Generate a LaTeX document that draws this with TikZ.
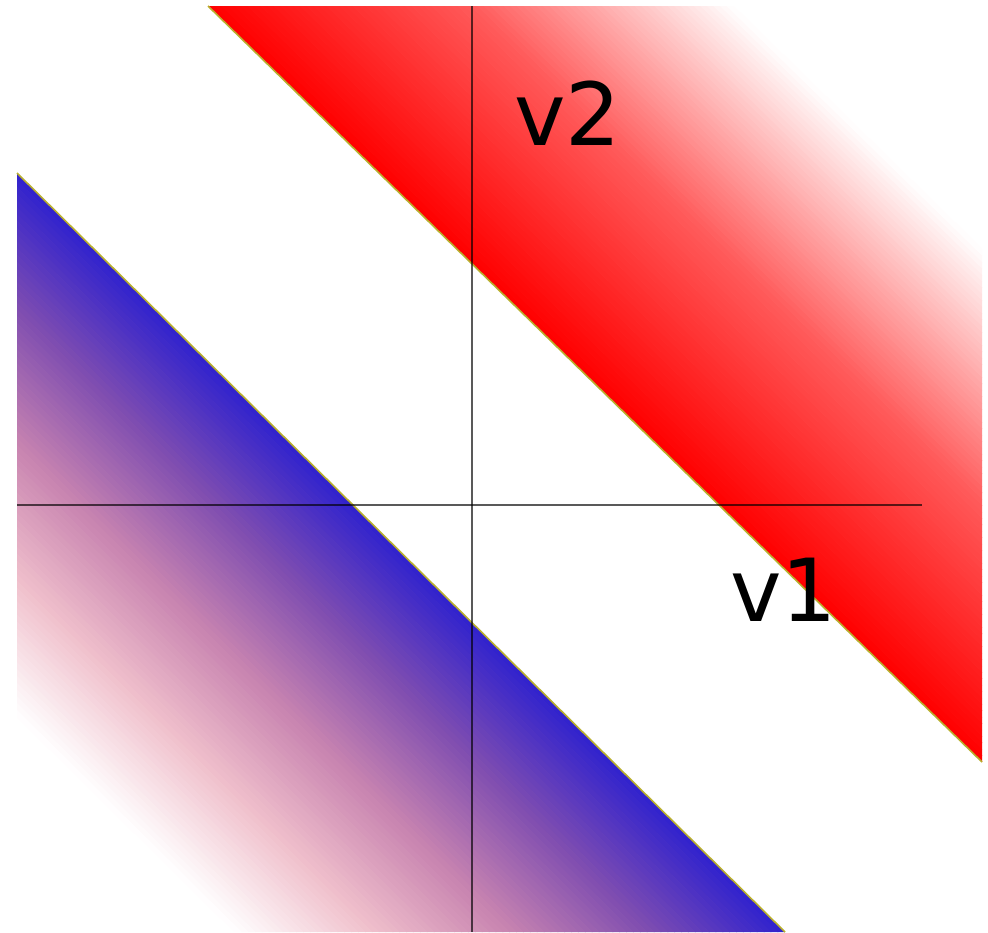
\documentclass[tikz,border=0pt]{standalone}
\usepackage{fontspec}
\setmainfont{DejaVu Sans}
\definecolor{rA}{RGB}{255,0,0}
\definecolor{rB}{RGB}{255,90,90}
\definecolor{rC}{RGB}{255,255,255}
\definecolor{bA}{RGB}{48,34,206}
\definecolor{bB}{RGB}{128,78,176}
\definecolor{bC}{RGB}{200,132,176}
\definecolor{bD}{RGB}{240,192,204}
\definecolor{bE}{RGB}{255,255,255}
\definecolor{edgecol}{RGB}{185,175,45}
\tikzset{
  axis/.style={black, opacity=0.65, line width=2pt},
  edgeline/.style={edgecol, line width=1.6pt},
  lab/.style={font=\fontsize{87}{92}\selectfont, inner sep=0pt, text=black}
}
\begin{document}
\begin{tikzpicture}[x=1pt,y=-1pt]
\useasboundingbox (0,0) rectangle (988,932);
\fill[white] (0,0) rectangle (988,932);
% red band
\begin{scope}
  \clip (208,6) -- (982,6) -- (982,762) -- cycle;
  \foreach \ca/\cb [count=\s from 0] in {rA/rB, rB/rC} {
    \foreach \i in {0,...,39} {
      \pgfmathsetmacro\da{(\s*40+\i)*6.5625}
      \pgfmathsetmacro\db{\da+7.4}
      \pgfmathsetmacro\p{(\i+0.5)*2.5}
      \fill[\cb!\p!\ca] (53.2+\da,-145.2) -- (1136.8+\da,913.2) -- (1136.8+\db,913.2) -- (53.2+\db,-145.2) -- cycle;
    }
  }
\end{scope}
% blue band
\begin{scope}
  \clip (17,173) -- (785,932) -- (17,932) -- cycle;
  \foreach \ca/\cb [count=\s from 0] in {bA/bB, bB/bC, bC/bD, bD/bE} {
    \foreach \i in {0,...,19} {
      \pgfmathsetmacro\da{(\s*20+\i)*6.875}
      \pgfmathsetmacro\db{\da+7.7}
      \pgfmathsetmacro\p{(\i+0.5)*5}
      \fill[\cb!\p!\ca] (-136.6-\da,21.2) -- (938.6-\da,1083.8) -- (938.6-\db,1083.8) -- (-136.6-\db,21.2) -- cycle;
    }
  }
\end{scope}
% edges
\coordinate (r1) at (208,6);
\coordinate (r2) at (982,762);
\coordinate (b1) at (17,173);
\coordinate (b2) at (785,932);
\draw[edgeline] (r1) -- (r2);
\draw[edgeline] (b1) -- (b2);
% axes
\coordinate (yt) at (472,6);
\coordinate (yb) at (472,932);
\coordinate (xl) at (17,505);
\coordinate (xr) at (922,505);
\draw[axis] (yt) -- (yb);
\draw[axis] (xl) -- (xr);
% labels
\node[lab] (v2) at (567.5,113.5) {v2};
\node[lab] (v1) at (783.5,590) {v1};
\end{tikzpicture}
\end{document}
